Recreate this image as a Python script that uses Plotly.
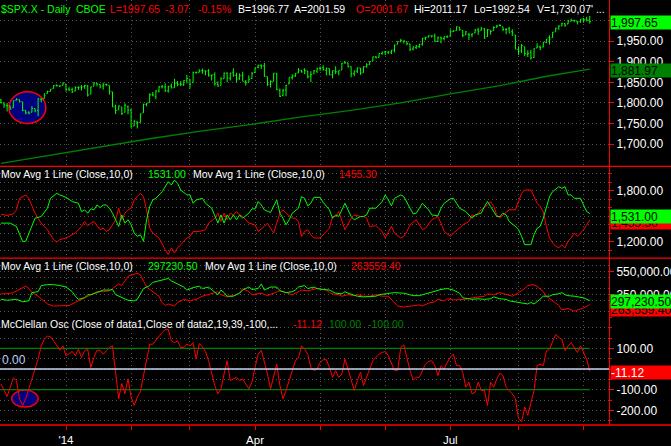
import plotly.graph_objects as go
from plotly.subplots import make_subplots

# ---- data: $SPX.X daily, trading days 2 Dec 2013 .. 4 Sep 2014 (bar number 0..190)
month_idx = [21, 42, 61, 82, 103, 124, 145, 167, 188]
month_lbl = ["'14", "", "", "Apr", "", "", "Jul", "", ""]

spx_open = [
    1806.6, 1800.1, 1794.1, 1792.8, 1788.4, 1806.2, 1807.6, 1802.8, 1781.7, 1777.0, 1777.5,
    1786.5, 1781.5, 1809.0, 1810.4, 1822.9, 1828.0, 1834.9, 1842.9, 1841.5, 1842.6,  # Dec
    1845.9, 1833.2, 1832.3, 1828.7, 1837.9, 1839.0, 1840.1, 1841.3, 1821.4, 1840.5, 1847.9,
    1844.2, 1841.1, 1844.7, 1842.3, 1826.9, 1791.0, 1783.0, 1790.2, 1777.2, 1790.9,  # Jan
    1782.7, 1743.8, 1753.4, 1752.4, 1776.0, 1796.2, 1800.5, 1820.1, 1814.8, 1828.5, 1839.3,
    1838.9, 1829.2, 1841.1, 1836.8, 1847.7, 1845.8, 1844.9, 1855.1,  # Feb
    1857.7, 1849.2, 1874.1, 1874.2, 1878.5, 1877.9, 1878.3, 1866.2, 1869.1, 1845.1, 1842.8,
    1858.9, 1872.3, 1860.1, 1874.5, 1867.7, 1859.5, 1867.1, 1852.1, 1850.1, 1859.2,  # Mar
    1874.0, 1886.6, 1891.4, 1890.3, 1863.9, 1845.5, 1852.6, 1872.3, 1830.7, 1818.2, 1831.5,
    1846.0, 1861.7, 1865.8, 1872.6, 1879.3, 1881.0, 1877.7, 1865.0, 1870.8, 1877.1,  # Apr
    1884.4, 1885.3, 1879.5, 1883.7, 1868.5, 1877.4, 1875.3, 1880.0, 1896.8, 1897.1, 1888.2,
    1871.2, 1876.7, 1884.9, 1873.3, 1888.2, 1893.3, 1902.0, 1911.8, 1910.6, 1920.3,  # May
    1923.9, 1923.1, 1923.1, 1928.5, 1942.4, 1949.0, 1950.3, 1949.4, 1943.4, 1930.8, 1934.8,
    1937.2, 1942.7, 1957.5, 1960.5, 1962.9, 1962.0, 1949.3, 1959.9, 1956.6, 1960.8,  # Jun
    1962.3, 1973.1, 1975.9, 1984.2, 1976.4, 1965.1, 1966.7, 1965.8, 1969.9, 1977.4, 1976.4,
    1979.8, 1961.5, 1976.9, 1975.7, 1983.9, 1988.1, 1984.6, 1978.3, 1980.0, 1973.2, 1965.1,  # Jul
    1929.8, 1926.6, 1936.3, 1917.3, 1923.0, 1910.4, 1933.4, 1935.7, 1935.6, 1947.4, 1958.9,
    1958.4, 1972.7, 1980.5, 1986.8, 1992.6, 1991.7, 1998.6, 2000.5, 1997.4, 1998.5,  # Aug
    2004.1, 2003.6, 2001.67,  # Sep
]
spx_high = [
    1810.0, 1800.1, 1799.8, 1792.8, 1806.0, 1811.5, 1808.5, 1802.9, 1782.8, 1780.0, 1792.2,
    1786.8, 1811.1, 1810.9, 1823.8, 1829.8, 1833.3, 1842.8, 1844.9, 1842.5, 1849.4,
    1845.9, 1838.2, 1837.2, 1840.1, 1840.0, 1843.2, 1843.8, 1843.5, 1839.3, 1850.8, 1847.9,
    1846.0, 1849.3, 1846.9, 1842.3, 1826.9, 1795.9, 1793.9, 1790.2, 1798.8, 1793.9,
    1784.8, 1758.7, 1755.8, 1774.1, 1798.0, 1799.9, 1823.5, 1826.6, 1830.3, 1841.7, 1842.9,
    1847.5, 1842.1, 1846.9, 1858.7, 1852.9, 1852.7, 1854.5, 1867.9,
    1857.7, 1876.2, 1876.5, 1881.9, 1883.6, 1877.9, 1882.4, 1868.4, 1874.4, 1852.4, 1862.3,
    1873.8, 1874.1, 1873.5, 1884.0, 1873.3, 1871.9, 1875.9, 1855.6, 1866.6, 1875.2,
    1885.8, 1893.2, 1893.8, 1897.3, 1864.0, 1854.9, 1872.4, 1872.5, 1835.1, 1834.2, 1844.0,
    1862.3, 1869.6, 1871.9, 1884.9, 1879.8, 1884.1, 1877.7, 1877.0, 1880.0, 1885.2,
    1888.6, 1891.3, 1885.5, 1883.7, 1878.8, 1889.1, 1878.6, 1897.1, 1902.2, 1897.1, 1888.2,
    1878.3, 1886.0, 1884.9, 1888.8, 1896.3, 1901.3, 1912.3, 1914.5, 1920.0, 1924.0,
    1925.9, 1925.1, 1928.6, 1941.7, 1949.4, 1955.6, 1950.9, 1949.4, 1943.4, 1937.3, 1941.2,
    1943.7, 1957.7, 1959.9, 1963.9, 1963.7, 1968.2, 1960.8, 1959.9, 1961.0, 1964.2,
    1978.6, 1976.7, 1985.6, 1984.2, 1976.4, 1974.2, 1969.8, 1968.7, 1979.9, 1982.5, 1983.9,
    1981.8, 1979.9, 1976.9, 1986.2, 1989.2, 1991.4, 1984.6, 1981.5, 1984.9, 1978.9, 1965.1,
    1937.4, 1942.9, 1936.3, 1927.9, 1928.9, 1932.4, 1944.9, 1939.7, 1948.4, 1955.2, 1964.0,
    1972.0, 1982.6, 1988.6, 1994.8, 1993.5, 2002.0, 2005.0, 2002.1, 1998.6, 2003.4,
    2006.1, 2009.3, 2011.17,
]
spx_low = [
    1798.6, 1787.9, 1779.1, 1783.4, 1788.4, 1806.2, 1801.4, 1780.1, 1772.3, 1772.4, 1777.5,
    1777.2, 1767.9, 1801.4, 1810.4, 1822.9, 1828.0, 1834.9, 1839.8, 1838.8, 1842.4,
    1827.7, 1829.1, 1823.7, 1828.7, 1831.4, 1830.4, 1834.2, 1815.5, 1821.4, 1840.5, 1840.3,
    1835.2, 1832.4, 1840.9, 1820.1, 1790.3, 1772.9, 1783.0, 1770.5, 1777.2, 1772.3,
    1739.7, 1743.8, 1737.9, 1752.4, 1776.0, 1791.8, 1800.4, 1815.9, 1809.2, 1825.6, 1835.0,
    1826.6, 1824.9, 1835.6, 1836.8, 1840.2, 1840.7, 1841.1, 1847.5,
    1834.4, 1849.2, 1871.0, 1874.2, 1870.6, 1867.0, 1863.9, 1854.4, 1841.9, 1839.6, 1842.8,
    1858.9, 1850.4, 1854.6, 1863.5, 1849.7, 1856.0, 1852.6, 1842.1, 1850.1, 1859.2,
    1874.0, 1883.8, 1882.7, 1863.3, 1841.5, 1837.5, 1852.4, 1830.9, 1814.4, 1815.8, 1816.3,
    1846.0, 1856.7, 1863.2, 1872.6, 1873.9, 1870.2, 1859.7, 1850.6, 1870.8, 1872.7,
    1878.0, 1878.5, 1866.8, 1867.7, 1859.8, 1870.1, 1867.0, 1880.0, 1896.1, 1885.8, 1862.4,
    1864.8, 1872.4, 1868.1, 1873.3, 1885.4, 1893.3, 1902.0, 1908.5, 1909.8, 1916.6,
    1916.0, 1918.8, 1918.6, 1922.9, 1942.4, 1947.2, 1944.6, 1940.1, 1925.8, 1927.7, 1930.9,
    1933.6, 1939.3, 1952.3, 1959.2, 1958.9, 1948.3, 1947.5, 1944.7, 1952.2, 1958.2,
    1962.3, 1972.6, 1975.9, 1975.7, 1959.5, 1965.1, 1952.9, 1959.6, 1969.9, 1965.3, 1975.7,
    1955.6, 1960.8, 1965.8, 1975.7, 1982.4, 1985.8, 1974.4, 1966.9, 1970.0, 1962.4, 1930.7,
    1916.4, 1921.2, 1913.8, 1911.5, 1904.8, 1909.0, 1933.4, 1928.3, 1935.6, 1945.1, 1941.5,
    1958.4, 1972.7, 1977.7, 1986.8, 1984.8, 1991.7, 1998.6, 1996.2, 1990.5, 1994.6,
    1994.9, 1998.1, 1992.54,
]
spx_close = [
    1800.9, 1795.2, 1792.8, 1785.0, 1805.1, 1808.4, 1802.6, 1782.2, 1775.5, 1775.3, 1786.5,
    1781.0, 1810.7, 1809.6, 1818.3, 1828.0, 1833.3, 1842.0, 1841.4, 1841.1, 1848.4,
    1832.0, 1831.4, 1826.8, 1837.9, 1837.5, 1838.1, 1842.4, 1819.2, 1838.9, 1848.4, 1845.9,
    1838.7, 1843.8, 1844.9, 1828.5, 1790.3, 1781.6, 1792.5, 1774.2, 1794.2, 1782.6,
    1741.9, 1755.2, 1751.6, 1773.4, 1797.0, 1799.8, 1819.8, 1819.3, 1829.8, 1838.6, 1840.8,
    1828.8, 1839.8, 1836.3, 1847.6, 1845.1, 1845.2, 1854.3, 1859.5,
    1845.7, 1873.9, 1873.8, 1877.0, 1878.0, 1877.2, 1867.6, 1868.2, 1846.3, 1841.1, 1858.8,
    1872.3, 1860.8, 1872.0, 1866.5, 1857.4, 1865.6, 1852.6, 1849.0, 1857.6, 1872.3,
    1885.5, 1890.9, 1888.8, 1865.1, 1845.0, 1852.0, 1872.2, 1833.1, 1815.7, 1830.6, 1843.0,
    1862.3, 1864.9, 1871.9, 1879.6, 1875.4, 1878.6, 1863.4, 1869.4, 1878.3, 1884.0,
    1883.7, 1881.1, 1884.7, 1867.7, 1878.2, 1875.6, 1878.5, 1896.7, 1897.5, 1888.5, 1870.9,
    1877.9, 1885.1, 1872.8, 1888.0, 1892.5, 1900.5, 1911.9, 1909.8, 1920.0, 1923.6,
    1925.0, 1924.2, 1927.9, 1940.5, 1949.4, 1951.3, 1950.8, 1943.9, 1930.1, 1936.2, 1937.8,
    1942.0, 1957.0, 1959.5, 1962.9, 1962.6, 1950.0, 1959.5, 1957.2, 1961.0, 1960.2,
    1973.3, 1974.6, 1985.4, 1977.7, 1963.7, 1972.8, 1964.7, 1967.6, 1977.1, 1973.3, 1981.6,
    1958.1, 1978.2, 1973.6, 1983.5, 1987.0, 1988.0, 1978.3, 1978.9, 1970.0, 1970.1, 1930.7,
    1925.2, 1939.0, 1920.2, 1920.2, 1909.6, 1931.6, 1936.9, 1933.8, 1946.7, 1955.2, 1955.1,
    1971.7, 1981.6, 1986.5, 1992.4, 1988.4, 1997.9, 2000.0, 2000.1, 1996.7, 2003.4,
    2002.3, 2000.7, 1997.65,
]
day_idx = list(range(len(spx_close)))

# 200-day average of close
ma_x = [0, 16, 32, 48, 65, 81, 97, 113, 129, 145, 161, 177, 190]
ma_v = [1653, 1673, 1694, 1713, 1732, 1748, 1766, 1782, 1800, 1822, 1842, 1866, 1881.97]

# 10-day avg of advancing / declining issues
adv_x = [0, 3, 5, 6, 7, 8, 9, 10, 11, 13, 15, 16, 18, 19, 21, 23, 25, 26, 27, 28, 29, 30, 31, 32,
         33, 34, 35, 36, 37, 38, 39, 40, 41, 42, 43, 44, 45, 46, 47, 48, 49, 50, 52, 53, 54, 55,
         56, 57, 58, 60, 61, 62, 63, 65, 66, 68, 69, 70, 71, 72, 73, 74, 75, 76, 77, 78, 80, 81,
         82, 83, 84, 85, 87, 88, 89, 90, 91, 92, 93, 94, 96, 97, 98, 99, 100, 101, 103, 104, 105,
         106, 107, 108, 109, 111, 112, 113, 114, 116, 117, 118, 119, 121, 123, 124, 125, 126,
         127, 129, 130, 131, 132, 133, 134, 136, 138, 139, 141, 142, 143, 145, 146, 147, 148,
         150, 151, 152, 153, 155, 156, 157, 158, 159, 160, 161, 162, 163, 164, 166, 167, 168,
         169, 171, 172, 173, 174, 175, 176, 177, 178, 180, 181, 182, 183, 184, 185, 187, 188,
         189, 190]
adv_v = [1418, 1418, 1379, 1281, 1203, 1203, 1301, 1379, 1476, 1496, 1594, 1710, 1769, 1750, 1722,
         1672, 1652, 1554, 1574, 1535, 1586, 1574, 1632, 1601, 1632, 1632, 1594, 1535, 1457, 1379,
         1515, 1418, 1457, 1398, 1301, 1262, 1281, 1203, 1457, 1613, 1691, 1710, 1788, 1847, 1906,
         1867, 1925, 1886, 1808, 1750, 1750, 1652, 1691, 1710, 1652, 1594, 1515, 1418, 1515, 1418,
         1515, 1457, 1515, 1457, 1515, 1476, 1535, 1586, 1586, 1672, 1632, 1574, 1543, 1613, 1691,
         1535, 1476, 1398, 1457, 1535, 1594, 1730, 1710, 1621, 1652, 1722, 1722, 1660, 1613, 1574,
         1476, 1515, 1496, 1652, 1574, 1496, 1457, 1496, 1496, 1515, 1594, 1594, 1672, 1750, 1691,
         1621, 1710, 1750, 1730, 1652, 1594, 1527, 1535, 1652, 1574, 1515, 1504, 1594, 1652, 1703,
         1710, 1652, 1594, 1554, 1515, 1476, 1515, 1535, 1613, 1672, 1613, 1554, 1496, 1496, 1535,
         1515, 1437, 1379, 1340, 1262, 1164, 1164, 1281, 1359, 1379, 1476, 1613, 1730, 1788, 1847,
         1828, 1847, 1750, 1750, 1710, 1710, 1632, 1554, 1531.00]
dec_x = [0, 2, 4, 5, 6, 8, 9, 10, 11, 12, 13, 15, 17, 18, 19, 21, 23, 24, 26, 27, 28, 29, 30, 31,
         32, 33, 34, 35, 37, 38, 39, 40, 41, 42, 43, 44, 45, 46, 47, 48, 49, 51, 52, 53, 54, 55,
         56, 57, 58, 60, 61, 62, 64, 66, 67, 69, 70, 71, 72, 73, 74, 75, 76, 77, 78, 80, 82, 83,
         85, 86, 87, 88, 89, 90, 91, 92, 94, 95, 96, 97, 98, 99, 100, 101, 103, 104, 105, 106,
         107, 108, 109, 110, 111, 113, 114, 116, 117, 118, 119, 121, 123, 124, 125, 126, 127,
         129, 130, 131, 132, 134, 136, 137, 139, 141, 142, 143, 145, 146, 148, 149, 151, 152,
         153, 155, 157, 158, 159, 160, 161, 162, 164, 166, 167, 168, 169, 171, 172, 173, 174,
         175, 176, 177, 178, 179, 180, 181, 182, 183, 184, 185, 186, 188, 189, 190]
dec_v = [1523, 1508, 1527, 1574, 1710, 1750, 1710, 1613, 1535, 1476, 1418, 1340, 1223, 1196, 1223,
         1243, 1281, 1301, 1379, 1437, 1387, 1418, 1437, 1387, 1340, 1359, 1320, 1340, 1457, 1594,
         1457, 1535, 1574, 1594, 1691, 1730, 1769, 1730, 1574, 1359, 1301, 1243, 1164, 1106, 1048,
         1126, 1067, 1126, 1164, 1243, 1262, 1320, 1320, 1340, 1418, 1476, 1535, 1437, 1535, 1457,
         1535, 1515, 1554, 1515, 1496, 1418, 1398, 1320, 1379, 1418, 1359, 1301, 1418, 1535, 1574,
         1535, 1476, 1476, 1437, 1262, 1320, 1340, 1281, 1243, 1243, 1281, 1320, 1359, 1496, 1496,
         1554, 1457, 1340, 1476, 1515, 1496, 1496, 1476, 1379, 1387, 1320, 1243, 1320, 1379, 1301,
         1243, 1262, 1320, 1398, 1457, 1340, 1359, 1457, 1496, 1418, 1320, 1262, 1301, 1359, 1398,
         1437, 1515, 1496, 1574, 1632, 1672, 1613, 1515, 1476, 1515, 1574, 1574, 1672, 1769, 1808,
         1808, 1730, 1652, 1613, 1554, 1379, 1243, 1184, 1145, 1126, 1164, 1126, 1204, 1243, 1301,
         1262, 1340, 1398, 1455.30]

# 10-day avg of up volume / down volume (thousands)
upv_x = [0, 2, 5, 7, 9, 10, 12, 13, 15, 17, 19, 21, 23, 24, 25, 27, 28, 29, 31, 33, 35, 36, 37,
         38, 40, 41, 43, 44, 46, 48, 49, 52, 54, 55, 56, 57, 59, 60, 62, 64, 65, 67, 69, 70, 71,
         72, 73, 75, 77, 78, 80, 81, 83, 84, 85, 87, 89, 90, 92, 94, 95, 96, 98, 99, 101, 102,
         104, 106, 107, 108, 110, 111, 112, 114, 115, 117, 119, 121, 122, 125, 127, 130, 131,
         133, 135, 136, 138, 140, 142, 144, 146, 148, 149, 151, 152, 154, 156, 158, 159, 161,
         163, 164, 166, 168, 170, 171, 172, 173, 175, 177, 178, 180, 181, 182, 183, 185, 188, 190]
upv_v = [309, 301, 309, 288, 296, 367, 375, 428, 436, 436, 428, 415, 375, 336, 309, 322, 349, 349,
         367, 389, 389, 394, 349, 336, 309, 301, 296, 309, 402, 428, 455, 473, 489, 468, 455, 442,
         415, 389, 410, 423, 402, 415, 375, 349, 389, 367, 336, 336, 362, 389, 415, 394, 402, 442,
         389, 415, 415, 383, 367, 375, 389, 415, 428, 402, 415, 402, 394, 389, 375, 362, 357, 375,
         362, 341, 336, 330, 330, 336, 349, 357, 367, 362, 357, 341, 341, 349, 367, 383, 394, 402,
         389, 362, 322, 314, 309, 314, 309, 314, 330, 314, 309, 296, 288, 277, 269, 282, 269, 288,
         336, 336, 349, 357, 367, 349, 341, 336, 322, 297.2305]
dnv_x = [0, 2, 4, 6, 8, 9, 10, 12, 14, 15, 17, 20, 22, 24, 26, 28, 30, 31, 33, 35, 36, 38, 39,
         40, 41, 43, 44, 45, 46, 47, 49, 51, 52, 53, 54, 56, 57, 59, 61, 63, 65, 67, 69, 70, 71,
         73, 75, 77, 78, 80, 81, 84, 86, 88, 90, 92, 94, 96, 97, 99, 101, 102, 105, 106, 107,
         109, 110, 112, 114, 115, 117, 119, 121, 123, 125, 127, 128, 130, 132, 135, 136, 138,
         140, 141, 143, 144, 146, 148, 150, 152, 154, 156, 157, 159, 161, 163, 165, 167, 169,
         170, 172, 173, 175, 176, 178, 180, 181, 183, 185, 186, 188, 190]
dnv_v = [357, 357, 367, 394, 423, 402, 367, 336, 296, 269, 251, 251, 256, 282, 309, 336, 362, 375,
         375, 383, 402, 442, 428, 468, 508, 526, 534, 521, 468, 415, 375, 336, 282, 256, 269, 251,
         282, 309, 296, 309, 336, 349, 362, 375, 349, 330, 341, 362, 402, 375, 349, 362, 341, 362,
         383, 367, 349, 375, 389, 383, 394, 402, 389, 367, 357, 349, 336, 349, 341, 349, 336, 336,
         349, 336, 336, 282, 251, 243, 251, 261, 251, 277, 288, 309, 296, 314, 304, 309, 309, 322,
         330, 336, 357, 349, 367, 349, 336, 367, 402, 428, 436, 420, 375, 336, 296, 256, 216, 230,
         208, 216, 235, 263.5594]
upv_v = [v * 1000 for v in upv_v]
dnv_v = [v * 1000 for v in dnv_v]

# McClellan oscillator
mco_x = [0, 2, 4, 5, 6, 7, 8, 9, 10, 11, 12, 13, 14, 15, 16, 17, 18, 19, 20, 21, 23, 24, 25, 26,
         27, 28, 29, 30, 31, 32, 33, 34, 35, 36, 37, 38, 39, 40, 41, 42, 43, 44, 45, 46, 47, 48,
         49, 51, 52, 53, 54, 55, 56, 57, 58, 59, 60, 61, 62, 63, 64, 65, 66, 67, 68, 69, 70, 71,
         72, 73, 74, 75, 76, 77, 78, 80, 81, 82, 83, 84, 85, 86, 87, 88, 89, 90, 91, 92, 93, 94,
         95, 96, 97, 98, 99, 100, 101, 102, 103, 104, 105, 106, 107, 108, 109, 110, 111, 112,
         113, 114, 115, 116, 117, 118, 119, 120, 121, 122, 123, 124, 125, 126, 127, 128, 129,
         130, 131, 132, 133, 134, 135, 137, 138, 139, 140, 141, 142, 143, 144, 145, 146, 147,
         148, 149, 150, 151, 152, 153, 154, 155, 156, 157, 158, 159, 160, 161, 162, 163, 164,
         165, 166, 167, 168, 169, 170, 171, 172, 173, 174, 175, 176, 177, 178, 179, 180, 181,
         182, 183, 184, 185, 186, 187, 188, 189, 190]
mco_v = [-72, -133, -43, -56, -144, -176, -144, -96, -56, 0, 48, 112, 144, 160, 156, 136, 112, 91,
         112, 64, 85, 64, 96, 56, 88, 96, 8, 56, 91, 91, 72, 88, 104, 112, -8, -144, -70, -120, -48,
         -136, -176, -136, -110, -36, 56, 120, 120, 160, 176, 192, 192, 136, 128, 136, 104, 104, 120,
         112, 128, 48, 124, 108, 85, 40, -24, -80, -120, -96, -24, 40, -56, -48, -40, -56, -48, -96,
         -64, 8, 72, 91, 40, -24, -96, -40, 24, -80, -144, -104, -56, 0, 40, 53, 112, 96, 72, 8, -8,
         0, 32, 45, 45, 8, -40, -8, -40, -24, 48, 0, -56, -104, -56, -16, -80, -40, -8, 40, 56, 72,
         80, 85, 64, 24, -8, -8, 104, 117, 56, -8, -53, -40, -40, 24, 37, 40, 16, -32, 16, 0, 32, 56,
         72, 16, 16, -16, -88, -64, -120, -112, -64, -104, -104, -176, -64, -88, -48, -20, -32, -88,
         -104, -120, -144, -240, -256, -184, -224, -168, -104, 16, 24, 16, 88, 96, 136, 168, 152,
         144, 88, 112, 128, 104, 80, 112, 80, 48, -11.12]
mco_ob = 100
mco_os = -100

header = [("$SPX.X - Daily", "#00ff00", 1), ("CBOE", "#00ff00", 76),
          ("L=1997.65", "#ff0000", 110), ("-3.07", "#ff0000", 165), ("-0.15%", "#ff0000", 198),
          ("B=1996.77", "white", 238), ("A=2001.59", "white", 294), ("O=2001.67", "#ff0000", 356),
          ("Hi=2011.17", "white", 414), ("Lo=1992.54", "white", 474), ("V=1,730,07' ...", "white", 537)]

GRN = "#00ff00"
DGRN = "#008000"
RED = "#ff0000"
GRID = "#555555"
W, H = 671, 446
PW, PH = 609, 428   # plot area in px
FS = 10.5

fig = make_subplots(rows=4, cols=1, shared_xaxes=True, vertical_spacing=0,
                    row_heights=[167.5, 92.5, 59, 109])

fig.add_trace(go.Ohlc(x=day_idx, open=spx_open, high=spx_high, low=spx_low, close=spx_close,
                      increasing_line_color=GRN, decreasing_line_color=GRN,
                      line_width=1, tickwidth=0.35), row=1, col=1)
fig.add_trace(go.Scatter(x=ma_x, y=ma_v, mode="lines", line=dict(color=DGRN, width=1.3)), row=1, col=1)

fig.add_trace(go.Scatter(x=dec_x, y=dec_v, mode="lines", line=dict(color=RED, width=1)), row=2, col=1)
fig.add_trace(go.Scatter(x=adv_x, y=adv_v, mode="lines", line=dict(color=GRN, width=1)), row=2, col=1)

fig.add_trace(go.Scatter(x=dnv_x, y=dnv_v, mode="lines", line=dict(color=RED, width=1)), row=3, col=1)
fig.add_trace(go.Scatter(x=upv_x, y=upv_v, mode="lines", line=dict(color=GRN, width=1)), row=3, col=1)

fig.add_trace(go.Scatter(x=[0, day_idx[-1]], y=[mco_ob, mco_ob], mode="lines",
                         line=dict(color=DGRN, width=1.3)), row=4, col=1)
fig.add_trace(go.Scatter(x=[0, day_idx[-1]], y=[mco_os, mco_os], mode="lines",
                         line=dict(color=DGRN, width=1.3)), row=4, col=1)
fig.add_trace(go.Scatter(x=mco_x, y=mco_v, mode="lines", line=dict(color=RED, width=1)), row=4, col=1)

fnt = "Arial, Liberation Sans, sans-serif"
fig.update_layout(width=W, height=H, margin=dict(l=0, r=W - PW, t=0, b=H - PH),
                  paper_bgcolor="black", plot_bgcolor="black", showlegend=False,
                  hovermode=False, font=dict(family=fnt, size=11, color="white"))

fig.update_xaxes(range=[-0.3, 196.2], tickvals=month_idx, ticktext=month_lbl,
                 showgrid=True, gridcolor=GRID, griddash="1px,3px", gridwidth=1,
                 zeroline=False, showline=False, rangeslider_visible=False)
fig.update_xaxes(ticks="outside", ticklen=4, tickcolor=RED, tickfont=dict(color="white", size=11.5),
                 row=4, col=1)

yax = dict(side="right", showline=True, linecolor=RED, linewidth=1, ticks="outside",
           tickcolor=RED, ticklen=4, tickfont=dict(color="white", size=12), automargin=False,
           showgrid=True, gridcolor=GRID, griddash="1px,3px", zeroline=False, tickformat=",.2f")
fig.update_yaxes(**yax)
fig.update_yaxes(range=[1646, 2050], tickvals=[1700, 1750, 1800, 1850, 1900, 1950, 2000],
                 ticktext=["1,700.00", "1,750.00", "1,800.00", "1,850.00", "1,900.00", "1,950.00", ""],
                 row=1, col=1)
fig.update_yaxes(range=[1005, 2087], tickvals=[1200, 1500, 1800],
                 ticktext=["1,200.00", "", "1,800.00"],
                 minor=dict(dtick=100, showgrid=True, gridcolor=GRID, griddash="1px,3px",
                            ticks="outside", ticklen=2, tickcolor=RED), row=2, col=1)
fig.update_yaxes(range=[158700, 664000], tickvals=[350000, 550000],
                 minor=dict(dtick=100000, showgrid=True, gridcolor=GRID, griddash="1px,3px"),
                 row=3, col=1)
fig.update_yaxes(range=[-271, 253], tickvals=[-200, -100, 0, 100],
                 ticktext=["-200.00", "-100.00", "", "100.00"],
                 minor=dict(dtick=50, showgrid=True, gridcolor=GRID, griddash="1px,3px",
                            ticks="outside", ticklen=2, tickcolor=RED), row=4, col=1)

# panel separators, zero line, circles
d1 = fig.layout.yaxis.domain[0]
d2 = fig.layout.yaxis2.domain[0]
for yy in [d1, d2, 0]:
    fig.add_shape(type="line", xref="paper", yref="paper", x0=0, x1=W / PW + 0.01, y0=yy, y1=yy,
                  line=dict(color=RED, width=1.3), layer="above")
fig.add_shape(type="line", xref="paper", yref="y4", x0=0, x1=1, y0=0, y1=0,
              line=dict(color="#c4d4f0", width=1.5))
fig.add_shape(type="circle", xref="x", yref="y", x0=2.6, x1=14.5, y0=1750, y1=1827,
              fillcolor="#000080", line=dict(color=RED, width=1.5), layer="between")
fig.add_shape(type="circle", xref="x4", yref="y4", x0=3.5, x1=12, y0=-184, y1=-102,
              fillcolor="#000080", line=dict(color=RED, width=1.5), layer="between")


def txt(px, py, text, color):
    fig.add_annotation(xref="paper", yref="paper", x=px / PW, y=1 - py / PH, text=text,
                       showarrow=False, xanchor="left", yanchor="middle",
                       font=dict(color=color, size=FS, family=fnt), borderpad=0)


for t, c, px in header:
    txt(px - 1, 9, t, c)

mav = "Mov Avg 1 Line (Close,10,0)"
txt(0, 175, mav, "white")
txt(147, 175, f"{adv_v[-1]:.2f}", GRN)
txt(192, 175, mav, "white")
txt(338, 175, f"{dec_v[-1]:.2f}", RED)

txt(0, 268, mav, "white")
txt(147, 268, f"{upv_v[-1]:.2f}", GRN)
txt(204, 268, mav, "white")
txt(350, 268, f"{dnv_v[-1]:.2f}", RED)

txt(0, 326, "McClellan Osc (Close of data1,Close of data2,19,39,-100,...", "white")
txt(292, 326, f"{mco_v[-1]:.2f}", RED)
txt(328, 326, f"{mco_ob:.2f}", DGRN)
txt(367, 326, f"{mco_os:.2f}", DGRN)

fig.add_annotation(xref="paper", yref="y4", x=0, y=0, yanchor="bottom", xanchor="left",
                   text="0.00", showarrow=False, font=dict(color="#b8cdf0", size=12, family=fnt))


def box(yref, val, text, bg, fg, shift):
    fig.add_annotation(xref="paper", yref=yref, x=1, y=val, xanchor="left", yanchor="middle",
                       text=text, showarrow=False, bgcolor=bg, width=W - PW - 2, height=13,
                       align="left", xshift=1, yshift=shift, borderpad=0,
                       font=dict(color=fg, size=12, family=fnt))


box("y", spx_close[-1], f"{spx_close[-1]:,.2f}", GRN, "black", -1)
box("y", ma_v[-1], f"{ma_v[-1]:,.2f}", DGRN, "black", -1)
box("y2", dec_v[-1], f"{dec_v[-1]:,.2f}", RED, "black", -3)
box("y2", adv_v[-1], f"{adv_v[-1]:,.2f}", GRN, "black", -3)
box("y3", dnv_v[-1], f"{dnv_v[-1]:,.2f}", RED, "black", -5)
box("y3", upv_v[-1], f"{upv_v[-1]:,.2f}", GRN, "black", -1)
box("y4", mco_v[-1], f"{mco_v[-1]:,.2f}", RED, "white", -1)

fig.write_html("out.html", config={"displayModeBar": False},
               post_script="document.body.style.margin='0';")
